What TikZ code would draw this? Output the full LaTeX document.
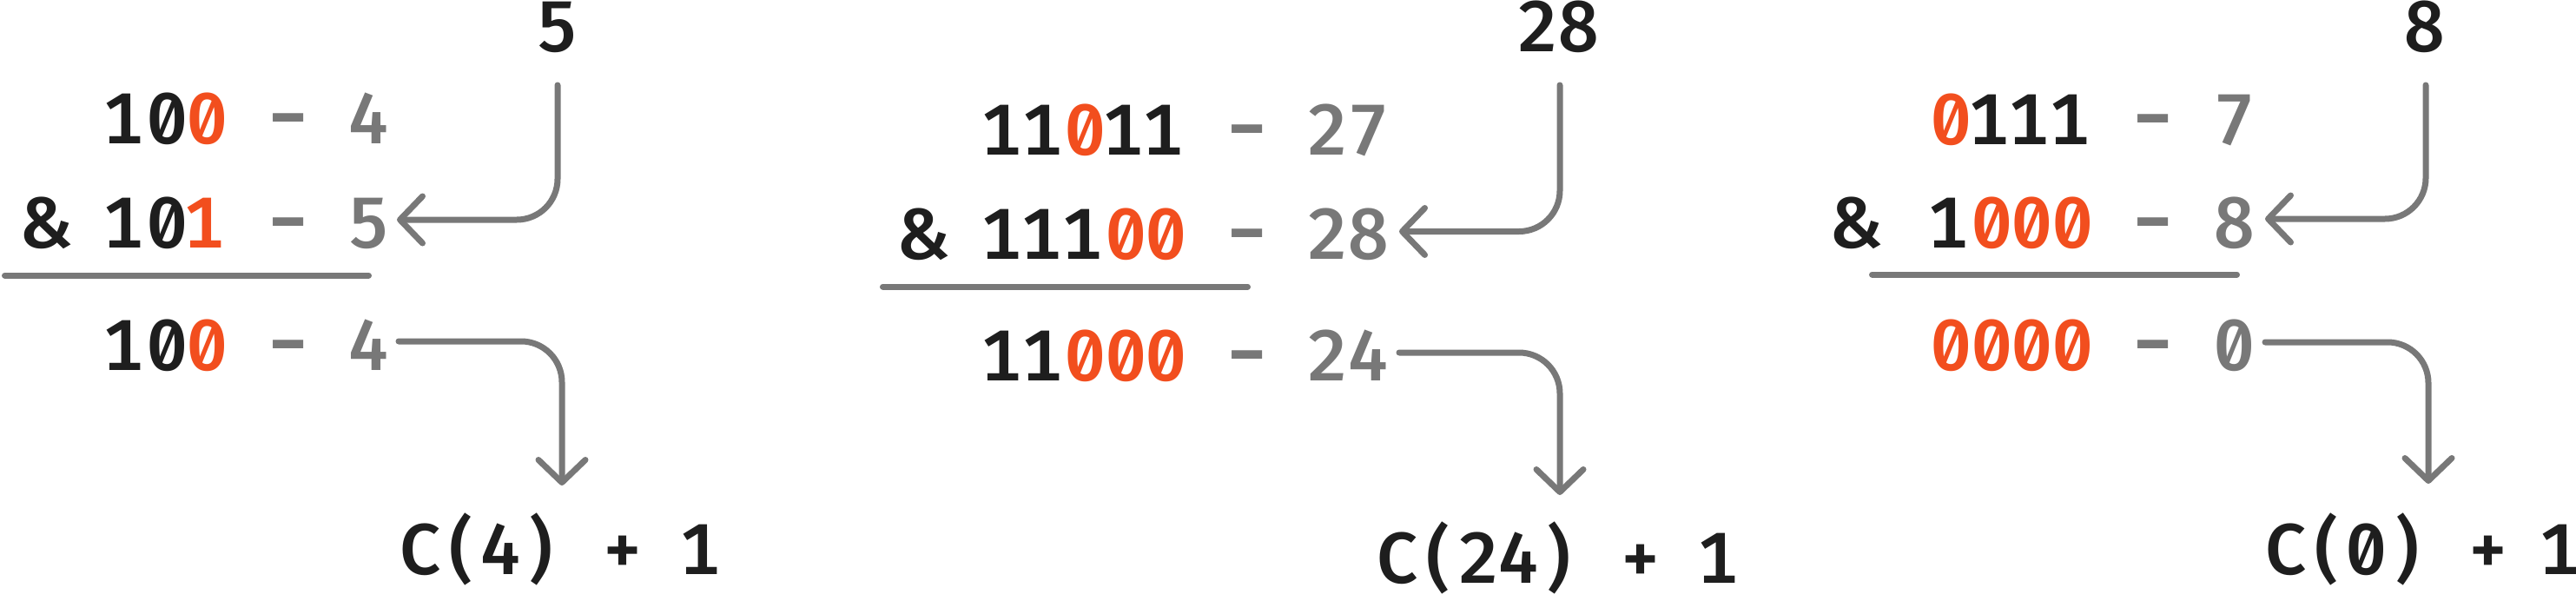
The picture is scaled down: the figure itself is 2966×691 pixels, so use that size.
\documentclass[tikz,border=0pt]{standalone}
\usepackage{fontspec}
\usepackage{graphicx}
\setmainfont{Fira Sans}[UprightFont={* Medium}, Numbers={Monospaced,SlashedZero}]
\usetikzlibrary{arrows.meta}
\definecolor{ink}{HTML}{1E1E1E}
\definecolor{hlred}{HTML}{F24E1E}
\definecolor{lgray}{HTML}{787878}
\newlength\cw \setlength\cw{46.5pt}
\makeatletter
\newcommand\mrow[1]{\@tfor\mx:=#1\do{\makebox[\cw][c]{\mx}}}
\makeatother
\newcommand\hlc{\color{hlred}}
\newcommand\grc{\color{lgray}}
\newcommand\one{\kern-4pt1\kern4pt}
\newcommand\lastone{\kern-11pt1\kern11pt}
\newcommand\dsh{{\grc\scalebox{1.4}[1.15]{-}}}
\newcommand\bigfont{\fontsize{83pt}{96pt}\selectfont}
\tikzset{
  txt/.style={inner sep=0pt, outer sep=0pt, font=\bigfont, text=ink},
  rowr/.style={txt, anchor=base east},
  rowl/.style={txt, anchor=base west},
  num/.style={txt, anchor=base},
  rule/.style={draw=lgray, line width=7pt, line cap=round},
  conn/.style={draw=lgray, line width=7pt, line cap=round, line join=round,
    rounded corners=47pt, -{Straight Barb[length=26pt,width=54pt,round]}}
}
\begin{document}
\begin{tikzpicture}[x=1pt,y=-1pt]
\fill[white] (0,0) rectangle (2966,691);
\useasboundingbox (0,0) rectangle (2966,691);
% ---- panel 1
\node[num] (t1) at (642,59) {5};
\node[rowr] (r11) at (448.25,165) {\mrow{\one0{\hlc0}~\dsh~{\grc4}}};
\node[rowr] (r12) at (448.25,285) {\mrow{\&~\one0{\hlc\one}~\dsh~{\grc5}}};
\node[rowr] (r13) at (448.25,426) {\mrow{\one0{\hlc0}~\dsh~{\grc4}}};
\node[rowl] (c1) at (460.75,661) {\mrow{C(4)~+~\one}};
\draw[rule] (5.5,317) -- (424.5,317);
\draw[conn] ([yshift=-39pt]t1.base) |- ([xshift=8.75pt,yshift=32pt]r12.base east);
\draw[conn] ([xshift=10.75pt,yshift=33pt]r13.base east) -| ([xshift=186.25pt,yshift=102pt]c1.base west);
% ---- panel 2
\node[num] (t2) at (1794,59) {28};
\node[rowr] (r21) at (1598.5,178) {\mrow{\one\one{\hlc0}\one\one~\dsh~{\grc2}{\grc7}}};
\node[rowr] (r22) at (1598.5,298) {\mrow{\&~\one\one\one{\hlc0}{\hlc0}~\dsh~{\grc2}{\grc8}}};
\node[rowr] (r23) at (1598.5,438) {\mrow{\one\one{\hlc0}{\hlc0}{\hlc0}~\dsh~{\grc2}{\grc4}}};
\node[rowl] (c2) at (1586.25,671) {\mrow{C(24)~+~\one}};
\draw[rule] (1016.5,330) -- (1436.5,330);
\draw[conn] ([xshift=2pt,yshift=-39pt]t2.base) |- ([xshift=12.5pt,yshift=31.5pt]r22.base east);
\draw[conn] ([xshift=12.5pt,yshift=32pt]r23.base east) -| ([xshift=209.75pt,yshift=101pt]c2.base west);
% ---- panel 3
\node[num] (t3) at (2792,59) {8};
\node[rowr] (r31) at (2595.75,166) {\mrow{{\hlc0}\one\one\one~\dsh~{\grc7}}};
\node[rowr] (r32) at (2595.75,285) {\mrow{{\kern-17pt\&\kern17pt}~\one{\hlc0}{\hlc0}{\hlc0}~\dsh~{\grc8}}};
\node[rowr] (r33) at (2595.75,426) {\mrow{{\hlc0}{\hlc0}{\hlc0}{\hlc0}~\dsh~{\grc0}}};
\node[rowl] (c3) at (2608.75,661) {\mrow{C(0)~+~\lastone}};
\draw[rule] (2155.5,316) -- (2575.5,316);
\draw[conn] ([xshift=1pt,yshift=-39pt]t3.base) |- ([xshift=12.25pt,yshift=33pt]r32.base east);
\draw[conn] ([xshift=12.25pt,yshift=32pt]r33.base east) -| ([xshift=187.25pt,yshift=104pt]c3.base west);
\end{tikzpicture}
\end{document}
